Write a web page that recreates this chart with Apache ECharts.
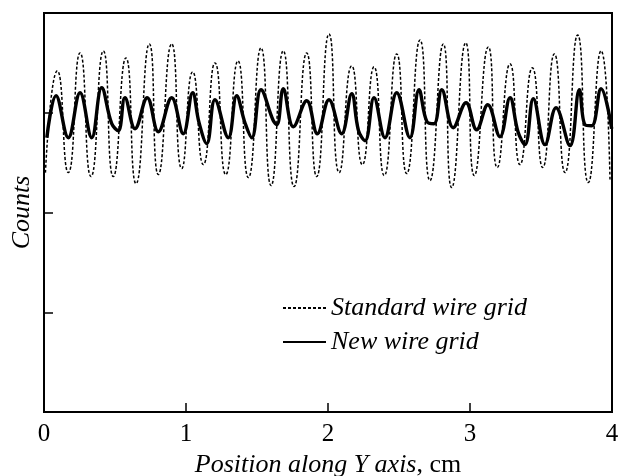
<!DOCTYPE html>
<html><head><meta charset="utf-8">
<script src="https://cdn.jsdelivr.net/npm/echarts@6/dist/echarts.min.js"></script>
<style>html,body{margin:0;padding:0;background:#fff}#c{width:627px;height:476px}</style>
</head><body><div id="c"></div>
<script>
const xTickLabels = ['0','1','2','3','4'];
const seriesNames = ['Standard wire grid','New wire grid'];
// Standard wire grid: position (cm), counts (relative units)
const standardX = [0.01,0.094,0.171,0.254,0.331,0.418,0.488,0.577,0.648,0.742,0.805,0.899,0.970,1.047,1.122,1.204,1.280,1.366,1.439,1.528,1.599,1.685,1.761,1.850,1.920,2.007,2.079,2.167,2.242,2.324,2.396,2.484,2.554,2.648,2.718,2.812,2.871,2.970,3.030,3.129,3.192,3.282,3.352,3.439,3.512,3.594,3.669,3.758,3.833,3.923,3.986];
const standardY = [2.40,3.42,2.40,3.60,2.36,3.62,2.36,3.55,2.29,3.69,2.38,3.69,2.44,3.41,2.48,3.50,2.38,3.52,2.35,3.65,2.27,3.62,2.26,3.60,2.36,3.79,2.40,3.47,2.48,3.46,2.37,3.59,2.39,3.73,2.32,3.69,2.25,3.70,2.37,3.66,2.45,3.49,2.48,3.45,2.45,3.59,2.40,3.78,2.30,3.62,2.32];
// New wire grid
const newX = [0.02,0.085,0.171,0.254,0.336,0.406,0.477,0.523,0.570,0.641,0.727,0.805,0.899,0.981,1.047,1.092,1.146,1.204,1.298,1.357,1.415,1.463,1.528,1.615,1.641,1.685,1.756,1.850,1.925,2.007,2.096,2.167,2.215,2.261,2.324,2.401,2.484,2.577,2.641,2.697,2.746,2.801,2.882,2.972,3.047,3.125,3.211,3.282,3.338,3.387,3.446,3.528,3.606,3.704,3.770,3.810,3.857,3.923,3.998];
const newY = [2.75,3.17,2.75,3.20,2.75,3.25,2.89,2.82,3.15,2.84,3.15,2.81,3.15,2.79,3.20,2.90,2.69,3.13,2.75,3.17,2.90,2.75,3.23,2.92,2.88,3.24,2.86,3.12,2.79,3.13,2.79,3.19,2.82,2.72,3.15,2.75,3.20,2.75,3.23,2.91,2.89,3.23,2.85,3.10,2.83,3.08,2.76,3.15,2.81,2.68,3.14,2.68,3.05,2.67,3.23,2.88,2.87,3.24,2.84];

const serif = '"Liberation Serif","DejaVu Serif",serif';
const chart = echarts.init(document.getElementById('c'));
chart.setOption({
  animation: false,
  backgroundColor: '#fff',
  color: ['#000', '#000'],
  grid: {left: 44, right: 15, top: 13, bottom: 64, show: true, borderColor: '#000', borderWidth: 2,
    containLabel: false, outerBoundsMode: 'none'},
  legend: {
    orient: 'vertical', left: 282, top: 295, itemWidth: 43, itemHeight: 14, itemGap: 8, padding: 0,
    data: seriesNames,
    itemStyle: {opacity: 0},
    textStyle: {fontFamily: serif, fontStyle: 'italic', fontSize: 26, lineHeight: 26, color: '#000'}
  },
  xAxis: {
    type: 'value', min: 0, max: 4, interval: 1,
    axisLine: {show: true, lineStyle: {color: '#000', width: 2}},
    axisTick: {show: true, inside: true, length: 9, lineStyle: {color: '#000', width: 1.5}},
    splitLine: {show: false},
    axisLabel: {fontFamily: serif, fontSize: 25, color: '#000', margin: 10,
      formatter: v => xTickLabels[Math.round(v)]},
    name: '{i|Position along Y axis}{n|, cm}', nameLocation: 'middle', nameGap: 37,
    nameTextStyle: {rich: {
      i: {fontFamily: serif, fontStyle: 'italic', fontSize: 26, color: '#000'},
      n: {fontFamily: serif, fontSize: 26, color: '#000'}
    }}
  },
  yAxis: {
    type: 'value', min: 0, max: 4, interval: 1,
    axisLine: {show: true, lineStyle: {color: '#000', width: 2}},
    axisTick: {show: true, inside: true, length: 9, lineStyle: {color: '#000', width: 1.5}},
    splitLine: {show: false},
    axisLabel: {show: false},
    name: 'Counts', nameLocation: 'middle', nameGap: 9,
    nameTextStyle: {fontFamily: serif, fontStyle: 'italic', fontSize: 26, color: '#000'}
  },
  series: [
    {name: seriesNames[0], type: 'line', showSymbol: false, symbol: 'none', smooth: 0.6,
      data: standardX.map((x,i) => [x, standardY[i]]),
      lineStyle: {color: '#000', width: 1.5, type: [3,2]}, z: 2},
    {name: seriesNames[1], type: 'line', showSymbol: false, symbol: 'none', smooth: 0.4,
      data: newX.map((x,i) => [x, newY[i]]),
      lineStyle: {color: '#000', width: 3.4}, z: 3}
  ]
});
</script></body></html>
